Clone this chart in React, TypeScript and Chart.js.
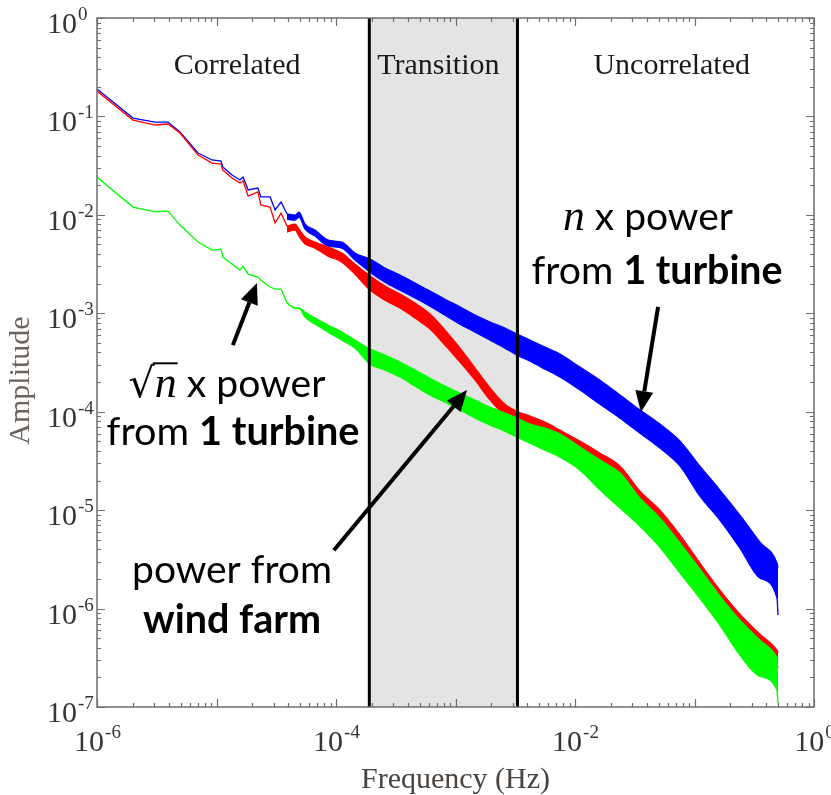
import React, { useEffect, useRef } from 'react';
import { Chart, registerables } from 'chart.js';

Chart.register(...registerables);

// ---------------- data ----------------
const frequencies = [
  1.0e-6, 2.0e-6, 3.06e-6, 3.93e-6, 4.95e-6, 7.0e-6, 9.2e-6, 1.09e-5, 1.13e-5, 1.35e-5,
  1.57e-5, 1.67e-5, 1.84e-5, 2.22e-5, 2.35e-5, 2.81e-5, 3.09e-5, 3.47e-5, 3.89e-5, 4.54e-5,
  4.9e-5, 5.51e-5, 6.67e-5, 8.57e-5, 1.12e-4, 1.44e-4, 1.93e-4, 2.57e-4, 3.43e-4, 4.58e-4,
  6.12e-4, 8.17e-4, 1.09e-3, 1.46e-3, 1.95e-3, 2.59e-3, 3.27e-3, 4.2e-3, 5.61e-3, 7.48e-3,
  1.1e-2, 1.62e-2, 2.38e-2, 3.5e-2, 5.14e-2, 7.57e-2, 0.111, 0.163, 0.24, 0.353,
  0.49, 0.5,
];
// index where the single low-frequency trace turns into a noisy band
const bandStartIndex = 18;

// n x power from 1 turbine (blue): upper / lower envelope of the spectrum
const blueUpper = [
  0.19, 0.0963, 0.0877, 0.0877, 0.0694, 0.0425, 0.0361, 0.0352, 0.0306, 0.0254,
  0.0226, 0.0242, 0.0179, 0.0187, 0.0152, 0.0152, 0.0112, 0.0135, 0.0102, 0.00995,
  0.01067, 0.00806, 0.007, 0.00554, 0.00529, 0.00409, 0.00356, 0.00288, 0.00244, 0.00203,
  0.00168, 0.00139, 0.00116, 0.000959, 0.000814, 0.000708, 0.000615, 0.000534, 0.000453, 0.000385,
  0.000284, 0.000209, 0.000148, 1.04e-4, 7.48e-5, 5.02e-5, 2.8e-5, 1.6e-5, 8.89e-6, 4.73e-6,
  2.89e-6, 2.6e-6,
];
const blueLower = [
  0.19, 0.0963, 0.0877, 0.0877, 0.0694, 0.0425, 0.0361, 0.0352, 0.0306, 0.0254,
  0.0226, 0.0242, 0.0179, 0.0187, 0.0152, 0.0152, 0.0112, 0.0135, 0.00906, 0.00885,
  0.0095, 0.00717, 0.00609, 0.00482, 0.0046, 0.00347, 0.00262, 0.00207, 0.00172, 0.00143,
  0.00118, 0.000959, 0.000776, 0.000644, 0.000534, 0.000443, 0.000376, 0.000327, 0.000271, 0.000225,
  0.000166, 0.000119, 8.6e-5, 6.06e-5, 4.27e-5, 2.8e-5, 1.39e-5, 7.91e-6, 4.11e-6, 2.04e-6,
  1.28e-6, 8.6e-7,
];

// power from wind farm (red)
const redUpper = [
  0.181, 0.0919, 0.0818, 0.0837, 0.0678, 0.0405, 0.0336, 0.0328, 0.0285, 0.0237,
  0.0211, 0.0221, 0.0155, 0.0171, 0.0126, 0.012, 0.00826, 0.0104, 7.69e-3, 8.06e-3,
  7.17e-3, 5.95e-3, 5.29e-3, 4.71e-3, 4.09e-3, 3.16e-3, 2.39e-3, 1.89e-3, 1.57e-3, 1.27e-3,
  9.81e-4, 6.75e-4, 4.43e-4, 2.77e-4, 1.74e-4, 1.19e-4, 1.01e-4, 9.02e-5, 7.84e-5, 6.5e-5,
  5.02e-5, 3.79e-5, 2.8e-5, 1.56e-5, 1.0e-5, 5.57e-6, 2.89e-6, 1.54e-6, 8.77e-7, 5.49e-7,
  3.78e-7, 3.6e-7,
];
const redLower = [
  0.181, 0.0919, 0.0818, 0.0837, 0.0678, 0.0405, 0.0336, 0.0328, 0.0285, 0.0237,
  0.0211, 0.0221, 0.0155, 0.0171, 0.0126, 0.012, 0.00826, 0.0104, 6.69e-3, 7.0e-3,
  6.09e-3, 5.05e-3, 4.6e-3, 3.81e-3, 3.31e-3, 2.5e-3, 1.72e-3, 1.36e-3, 1.13e-3, 8.94e-4,
  6.91e-4, 4.75e-4, 3.19e-4, 2.09e-4, 1.31e-4, 9.23e-5, 7.66e-5, 6.5e-5, 5.52e-5, 4.47e-5,
  3.38e-5, 2.55e-5, 1.84e-5, 1.12e-5, 7.2e-6, 4.01e-6, 2.08e-6, 1.11e-6, 6.32e-7, 3.96e-7,
  2.72e-7, 2.5e-7,
];

// sqrt(n) x power from 1 turbine (green)
const greenUpper = [
  0.0242, 0.012, 0.0107, 0.0109, 0.00787, 0.0053, 0.00439, 0.00449, 0.00373, 0.00316,
  0.00275, 0.00302, 0.0025, 0.00233, 0.00217, 0.00185, 0.00176, 0.00176, 0.00127, 0.00113,
  0.00113, 1.03e-3, 8.94e-4, 7.59e-4, 6.44e-4, 5.34e-4, 4.33e-4, 3.76e-4, 3.19e-4, 2.65e-4,
  2.19e-4, 1.82e-4, 1.54e-4, 1.31e-4, 1.11e-4, 9.67e-5, 8.61e-5, 7.48e-5, 6.81e-5, 5.92e-5,
  4.37e-5, 3.22e-5, 2.38e-5, 1.32e-5, 8.29e-6, 4.62e-6, 2.51e-6, 1.34e-6, 7.62e-7, 4.77e-7,
  3.2e-7, 3.0e-7,
];
const greenLower = [
  0.0242, 0.012, 0.0107, 0.0109, 0.00787, 0.0053, 0.00439, 0.00449, 0.00373, 0.00316,
  0.00275, 0.00302, 0.0025, 0.00233, 0.00217, 0.00185, 0.00176, 0.00176, 0.00127, 0.00113,
  0.00113, 9.15e-4, 7.77e-4, 6.44e-4, 5.34e-4, 4.43e-4, 3.04e-4, 2.65e-4, 2.25e-4, 1.82e-4,
  1.47e-4, 1.25e-4, 1.04e-4, 8.61e-5, 7.31e-5, 6.35e-5, 5.52e-5, 4.79e-5, 4.07e-5, 3.45e-5,
  2.55e-5, 1.6e-5, 1.05e-5, 6.87e-6, 4.2e-6, 2.29e-6, 1.27e-6, 6.78e-7, 3.36e-7, 2.05e-7,
  1.48e-7, 1.09e-7,
];

// region boundaries (Hz)
const transitionStart = 1.9e-4;
const transitionEnd = 3.3e-3;
const regionLabels = ['Correlated', 'Transition', 'Uncorrelated'];

// axes
const xRange = [1e-6, 1];
const yRange = [1e-7, 1];
const xDecadeExponents = [-6, -5, -4, -3, -2, -1, 0];
const yDecadeExponents = [-7, -6, -5, -4, -3, -2, -1, 0];
const minorMultipliers = [2, 3, 4, 5, 6, 7, 8, 9];
const xTickLabelExponents = [-6, -4, -2, 0];
const yTickLabelExponents = [0, -1, -2, -3, -4, -5, -6, -7];
const xAxisTitle = 'Frequency (Hz)';
const yAxisTitle = 'Amplitude';

// arrow annotations in data coordinates [freq, amplitude]
const arrows = [
  { from: [1.37e-5, 4.75e-4], to: [2.18e-5, 2.03e-3] },
  { from: [0.0496, 1.16e-3], to: [0.0356, 9.9e-5] },
  { from: [9.6e-5, 3.92e-6], to: [1.25e-3, 1.66e-4] },
];

// ---------------- styling ----------------
const W = 831;
const H = 795;
const SERIF = '"Liberation Serif", "Times New Roman", serif';
const SANS = 'Lato, "Open Sans", sans-serif';
const AXIS_COLOR = '#6e6e6e';
const BLUE = '#0000ff';
const RED = '#ff0000';
const GREEN = '#00ff00';

type Run = { t: string; s?: 'bold' | 'math' | 'radical' };
type TextLine = { cx: number; base: number; width: number; runs: Run[] };

const annotationLines: TextLine[] = [
  { cx: 648, base: 230, width: 170, runs: [{ t: 'n', s: 'math' }, { t: ' x power' }] },
  { cx: 657, base: 284, width: 251, runs: [{ t: 'from ' }, { t: '1 turbine', s: 'bold' }] },
  { cx: 227, base: 397, width: 197, runs: [{ t: '\u221A', s: 'radical' }, { t: 'n', s: 'math' }, { t: ' x power' }] },
  { cx: 233, base: 445, width: 253, runs: [{ t: 'from ' }, { t: '1 turbine', s: 'bold' }] },
  { cx: 232, base: 583, width: 200, runs: [{ t: 'power from' }] },
  { cx: 232, base: 633, width: 178, runs: [{ t: 'wind farm', s: 'bold' }] },
];

function runFont(s: Run['s'], size: number) {
  if (s === 'math') return `italic ${size * 1.12}px ${SERIF}`;
  if (s === 'radical') return `${size * 1.05}px "DejaVu Sans", sans-serif`;
  if (s === 'bold') return `bold ${size}px ${SANS}`;
  return `${size}px ${SANS}`;
}

function drawTextLine(ctx: CanvasRenderingContext2D, line: TextLine) {
  const base = 40;
  const measure = (size: number) =>
    line.runs.map((r) => {
      ctx.font = runFont(r.s, size);
      return ctx.measureText(r.t).width;
    });
  let widths = measure(base);
  let total = widths.reduce((a, b) => a + b, 0);
  const size = base * Math.min(1.2, Math.max(0.8, line.width / total));
  widths = measure(size);
  total = widths.reduce((a, b) => a + b, 0);
  let x = line.cx - total / 2;
  ctx.fillStyle = '#000';
  ctx.textAlign = 'left';
  ctx.textBaseline = 'alphabetic';
  let radicalEnd = -1;
  line.runs.forEach((r, i) => {
    ctx.font = runFont(r.s, size);
    ctx.fillText(r.t, x, line.base);
    if (r.s === 'radical') radicalEnd = x + widths[i];
    if (r.s === 'math' && radicalEnd > 0) {
      const yBar = line.base - size * 0.86;
      ctx.save();
      ctx.strokeStyle = '#000';
      ctx.lineWidth = 2;
      ctx.beginPath();
      ctx.moveTo(radicalEnd - 2, yBar);
      ctx.lineTo(x + widths[i] + 1, yBar);
      ctx.stroke();
      ctx.restore();
      radicalEnd = -1;
    }
    x += widths[i];
  });
}

function drawArrow(ctx: CanvasRenderingContext2D, x1: number, y1: number, x2: number, y2: number) {
  const ang = Math.atan2(y2 - y1, x2 - x1);
  const headLen = 21;
  const headW = 9;
  const bx = x2 - headLen * Math.cos(ang);
  const by = y2 - headLen * Math.sin(ang);
  ctx.save();
  ctx.strokeStyle = '#000';
  ctx.fillStyle = '#000';
  ctx.lineWidth = 4;
  ctx.lineCap = 'butt';
  ctx.beginPath();
  ctx.moveTo(x1, y1);
  ctx.lineTo(bx, by);
  ctx.stroke();
  ctx.beginPath();
  ctx.moveTo(x2, y2);
  ctx.lineTo(bx + headW * Math.sin(ang), by - headW * Math.cos(ang));
  ctx.lineTo(bx - headW * Math.sin(ang), by + headW * Math.cos(ang));
  ctx.closePath();
  ctx.fill();
  ctx.restore();
}

function drawPower(ctx: CanvasRenderingContext2D, exp: number, x: number, baseY: number, mode: 'center' | 'axisY') {
  const baseFont = `30px ${SERIF}`;
  const supFont = `19px ${SERIF}`;
  const sup = String(exp);
  ctx.font = baseFont;
  const wb = ctx.measureText('10').width;
  ctx.font = supFont;
  const ws = ctx.measureText(sup).width;
  const left = mode === 'center' ? x - (wb + ws) / 2 : x - wb;
  ctx.textAlign = 'left';
  ctx.textBaseline = 'alphabetic';
  ctx.font = baseFont;
  ctx.fillText('10', left, baseY);
  ctx.font = supFont;
  ctx.fillText(sup, left + wb + 1, baseY - 13);
}

const decorPlugin = {
  id: 'decor',
  beforeDatasetsDraw(chart: any) {
    const { ctx, chartArea } = chart;
    const xs = chart.scales.x;
    const x0 = xs.getPixelForValue(transitionStart);
    const x1 = xs.getPixelForValue(transitionEnd);
    ctx.save();
    ctx.fillStyle = '#e4e4e4';
    ctx.fillRect(x0, chartArea.top, x1 - x0, chartArea.bottom - chartArea.top);
    ctx.restore();
  },
  afterDatasetsDraw(chart: any) {
    const { ctx, chartArea } = chart;
    const { left, right, top, bottom } = chartArea;
    const xs = chart.scales.x;
    const ys = chart.scales.y;
    ctx.save();
    // transition boundaries
    ctx.strokeStyle = '#000';
    ctx.lineWidth = 3;
    ctx.beginPath();
    for (const v of [transitionStart, transitionEnd]) {
      const px = xs.getPixelForValue(v);
      ctx.moveTo(px, top);
      ctx.lineTo(px, bottom);
    }
    ctx.stroke();
    // frame
    ctx.strokeStyle = AXIS_COLOR;
    ctx.lineWidth = 1.5;
    ctx.strokeRect(left, top, right - left, bottom - top);
    // ticks
    ctx.lineWidth = 1.2;
    ctx.beginPath();
    for (const e of xDecadeExponents) {
      for (const m of [1, ...minorMultipliers]) {
        const v = m * Math.pow(10, e);
        if (v > xRange[1] * 1.0001) continue;
        const px = Math.round(xs.getPixelForValue(v)) + 0.5;
        const len = m === 1 ? 8 : 4;
        ctx.moveTo(px, bottom);
        ctx.lineTo(px, bottom - len);
        ctx.moveTo(px, top);
        ctx.lineTo(px, top + len);
      }
    }
    for (const e of yDecadeExponents) {
      for (const m of [1, ...minorMultipliers]) {
        const v = m * Math.pow(10, e);
        if (v > yRange[1] * 1.0001) continue;
        const py = Math.round(ys.getPixelForValue(v)) + 0.5;
        const len = m === 1 ? 8 : 4;
        ctx.moveTo(left, py);
        ctx.lineTo(left + len, py);
        ctx.moveTo(right, py);
        ctx.lineTo(right - len, py);
      }
    }
    ctx.stroke();
    ctx.restore();
  },
  afterDraw(chart: any) {
    const { ctx, chartArea } = chart;
    const { left, right, top, bottom } = chartArea;
    const xs = chart.scales.x;
    const ys = chart.scales.y;
    ctx.save();
    // tick labels
    ctx.fillStyle = '#3a3430';
    for (const e of xTickLabelExponents) {
      drawPower(ctx, e, xs.getPixelForValue(Math.pow(10, e)), bottom + 44, 'center');
    }
    for (const e of yTickLabelExponents) {
      drawPower(ctx, e, left - 20, ys.getPixelForValue(Math.pow(10, e)) + 15, 'axisY');
    }
    // axis titles
    ctx.font = `30px ${SERIF}`;
    ctx.fillStyle = '#4a4440';
    ctx.textAlign = 'center';
    ctx.textBaseline = 'alphabetic';
    ctx.fillText(xAxisTitle, (left + right) / 2, bottom + 81);
    ctx.save();
    ctx.translate(29, (top + bottom) / 2 + 18);
    ctx.rotate(-Math.PI / 2);
    ctx.fillStyle = '#6a625c';
    ctx.fillText(yAxisTitle, 0, 0);
    ctx.restore();
    // region labels
    const x0 = xs.getPixelForValue(transitionStart);
    const x1 = xs.getPixelForValue(transitionEnd);
    const centers = [(left + x0) / 2 + 4, (x0 + x1) / 2 - 5, (x1 + right) / 2 + 6];
    ctx.fillStyle = '#1a1a1a';
    ctx.font = `30px ${SERIF}`;
    regionLabels.forEach((t, i) => ctx.fillText(t, centers[i], top + 56));
    // arrows
    for (const a of arrows) {
      drawArrow(
        ctx,
        xs.getPixelForValue(a.from[0]), ys.getPixelForValue(a.from[1]),
        xs.getPixelForValue(a.to[0]), ys.getPixelForValue(a.to[1])
      );
    }
    // annotation text
    for (const line of annotationLines) drawTextLine(ctx, line);
    ctx.restore();
  },
};

function series(upper: number[], lower: number[], color: string) {
  const pts = (arr: number[], from: number, to: number) =>
    frequencies.slice(from, to).map((f, i) => ({ x: f, y: arr[from + i] }));
  const common = { borderColor: color, backgroundColor: color, borderWidth: 1.3, pointRadius: 0 };
  const n = frequencies.length;
  return [
    // noisy band: upper and lower envelopes filled between
    { ...common, data: pts(upper, bandStartIndex, n), fill: false, cubicInterpolationMode: 'monotone' },
    { ...common, data: pts(lower, bandStartIndex, n), fill: '-1', cubicInterpolationMode: 'monotone' },
    // low-frequency single trace
    { ...common, data: pts(upper, 0, bandStartIndex + 1), fill: false, tension: 0 },
  ];
}

export default function App() {
  const ref = useRef<HTMLCanvasElement>(null);
  useEffect(() => {
    const canvas = ref.current;
    if (!canvas) return;
    const chart = new Chart(canvas, {
      type: 'line',
      data: {
        datasets: [
          ...series(greenUpper, greenLower, GREEN),
          ...series(redUpper, redLower, RED),
          ...series(blueUpper, blueLower, BLUE),
        ] as any,
      },
      options: {
        animation: false,
        responsive: false,
        layout: { padding: { left: 97, right: 17, top: 18, bottom: 88 } },
        scales: {
          x: { type: 'logarithmic', min: xRange[0], max: xRange[1], display: false },
          y: { type: 'logarithmic', min: yRange[0], max: yRange[1], display: false },
        },
        elements: { point: { radius: 0 } },
        plugins: { legend: { display: false }, tooltip: { enabled: false } },
      },
      plugins: [decorPlugin],
    });
    return () => chart.destroy();
  }, []);
  return (
    <div style={{ position: 'absolute', left: 0, top: 0, width: W, height: H, background: '#fff' }}>
      <canvas ref={ref} width={W} height={H} style={{ display: 'block', width: W, height: H }} />
    </div>
  );
}
